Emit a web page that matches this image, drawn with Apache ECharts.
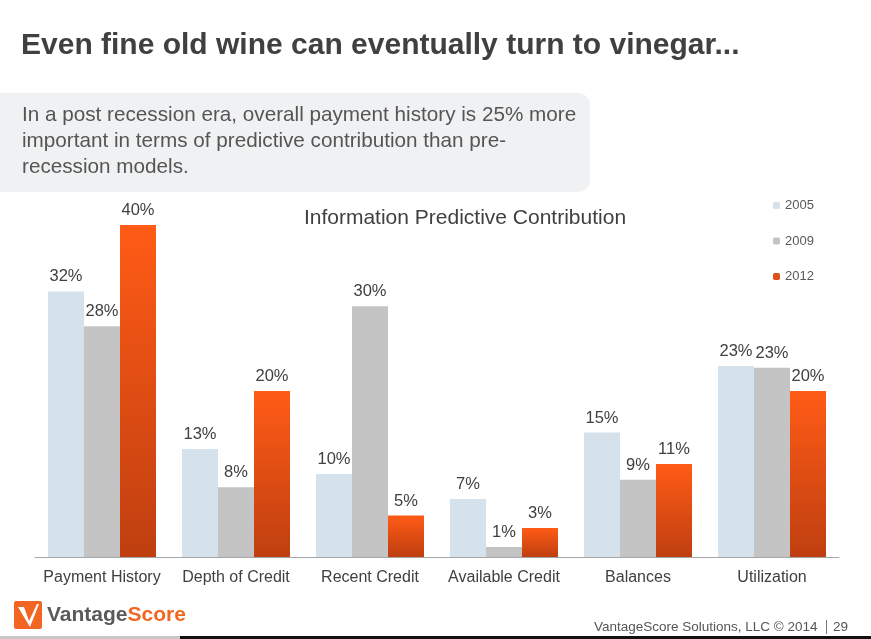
<!DOCTYPE html>
<html><head><meta charset="utf-8">
<script src="https://cdn.jsdelivr.net/npm/echarts@6/dist/echarts.min.js"></script>
<style>html,body{margin:0;padding:0;background:#fff;}#c{width:871px;height:639px;}</style>
</head><body><div id="c"></div>
<script>
const categories = ['Payment History','Depth of Credit','Recent Credit','Available Credit','Balances','Utilization'];
const seriesNames = ['2005','2009','2012'];
const values2005 = [32.0, 13.0, 10.0, 7.0, 15.0, 23.0];
const values2009 = [27.8, 8.4, 30.2, 1.2, 9.3, 22.8];
const values2012 = [40.0, 20.0, 5.0, 3.5, 11.2, 20.0];
const labels2005 = ['32%','13%','10%','7%','15%','23%'];
const labels2009 = ['28%','8%','30%','1%','9%','23%'];
const labels2012 = ['40%','20%','5%','3%','11%','20%'];

const FONT = 'Liberation Sans, Arial, sans-serif';
const chart = echarts.init(document.getElementById('c'));
const grad = new echarts.graphic.LinearGradient(0,0,0,1,[{offset:0,color:'#ff5b16'},{offset:1,color:'#bf3f10'}]);
function mk(name, data, labels, color){
  return {
    name, type:'bar', data, barGap:'0%', barCategoryGap:'19.4%',
    itemStyle:{color},
    label:{show:true, position:'top', distance:6, color:'#404040', fontSize:16.5, fontFamily:FONT,
      formatter:p=>labels[p.dataIndex]},
    emphasis:{disabled:true}
  };
}
chart.setOption({
  animation:false,
  textStyle:{fontFamily:FONT},
  grid:{left:35, right:32, top:225, bottom:82},
  legend:{
    orient:'vertical', left:773, top:199, padding:0, itemWidth:7, itemHeight:7, itemGap:22.5,
    textStyle:{color:'#595959', fontSize:13, fontFamily:FONT},
    data:[
      {name:'2005', itemStyle:{color:'#d5e1eb'}},
      {name:'2009', itemStyle:{color:'#c4c4c4'}},
      {name:'2012', itemStyle:{color:'#e2501a'}}
    ]
  },
  xAxis:{type:'category', data:categories,
    axisLine:{lineStyle:{color:'#a6a6a6'}}, axisTick:{show:false},
    axisLabel:{color:'#404040', fontSize:16, margin:13, interval:0, fontFamily:FONT}},
  yAxis:{type:'value', min:0, max:40, interval:10, show:false, splitLine:{show:false}},
  series:[
    mk(seriesNames[0], values2005, labels2005, '#d5e1eb'),
    mk(seriesNames[1], values2009, labels2009, '#c4c4c4'),
    mk(seriesNames[2], values2012, labels2012, grad)
  ],
  graphic:[
    {type:'text', left:21, top:31, style:{text:'Even fine old wine can eventually turn to vinegar...', fill:'#404040', font:'bold 30px '+FONT}},
    {type:'rect', shape:{x:-20, y:93, width:610, height:99, r:12}, style:{fill:'#f0f1f2'}, z:-1},
    {type:'text', left:22, top:102, style:{text:'In a post recession era, overall payment history is 25% more\nimportant in terms of predictive contribution than pre-\nrecession models.', fill:'#555555', font:'20.7px '+FONT, lineHeight:26}},
    {type:'text', x:465, y:218, style:{text:'Information Predictive Contribution', fill:'#404040', font:'21px '+FONT, textAlign:'center', textVerticalAlign:'middle'}},
    {type:'rect', shape:{x:14, y:601, width:28, height:28, r:2}, style:{fill:'#f26522'}},
    {type:'polygon', shape:{points:[[18,607],[24,607],[29,621],[37,604],[39,604],[30,627]]}, style:{fill:'#ffffff'}},
    {type:'text', x:47, y:615, style:{text:'{a|Vantage}{b|Score}', verticalAlign:'middle', rich:{
      a:{fill:'#5a5a5a', fontSize:21, fontWeight:'bold', fontFamily:FONT},
      b:{fill:'#f26522', fontSize:21, fontWeight:'bold', fontFamily:FONT}}}},
    {type:'text', x:594, y:627, style:{text:'VantageScore Solutions, LLC © 2014', fill:'#555555', font:'13.5px '+FONT, textVerticalAlign:'middle'}},
    {type:'rect', shape:{x:826, y:620, width:1, height:14}, style:{fill:'#777777'}},
    {type:'text', x:833, y:627, style:{text:'29', fill:'#555555', font:'13.5px '+FONT, textVerticalAlign:'middle'}},
    {type:'rect', shape:{x:0, y:636, width:180, height:3}, style:{fill:'#c8c8c8'}},
    {type:'rect', shape:{x:180, y:636, width:691, height:3}, style:{fill:'#111111'}}
  ]
});
</script></body></html>
